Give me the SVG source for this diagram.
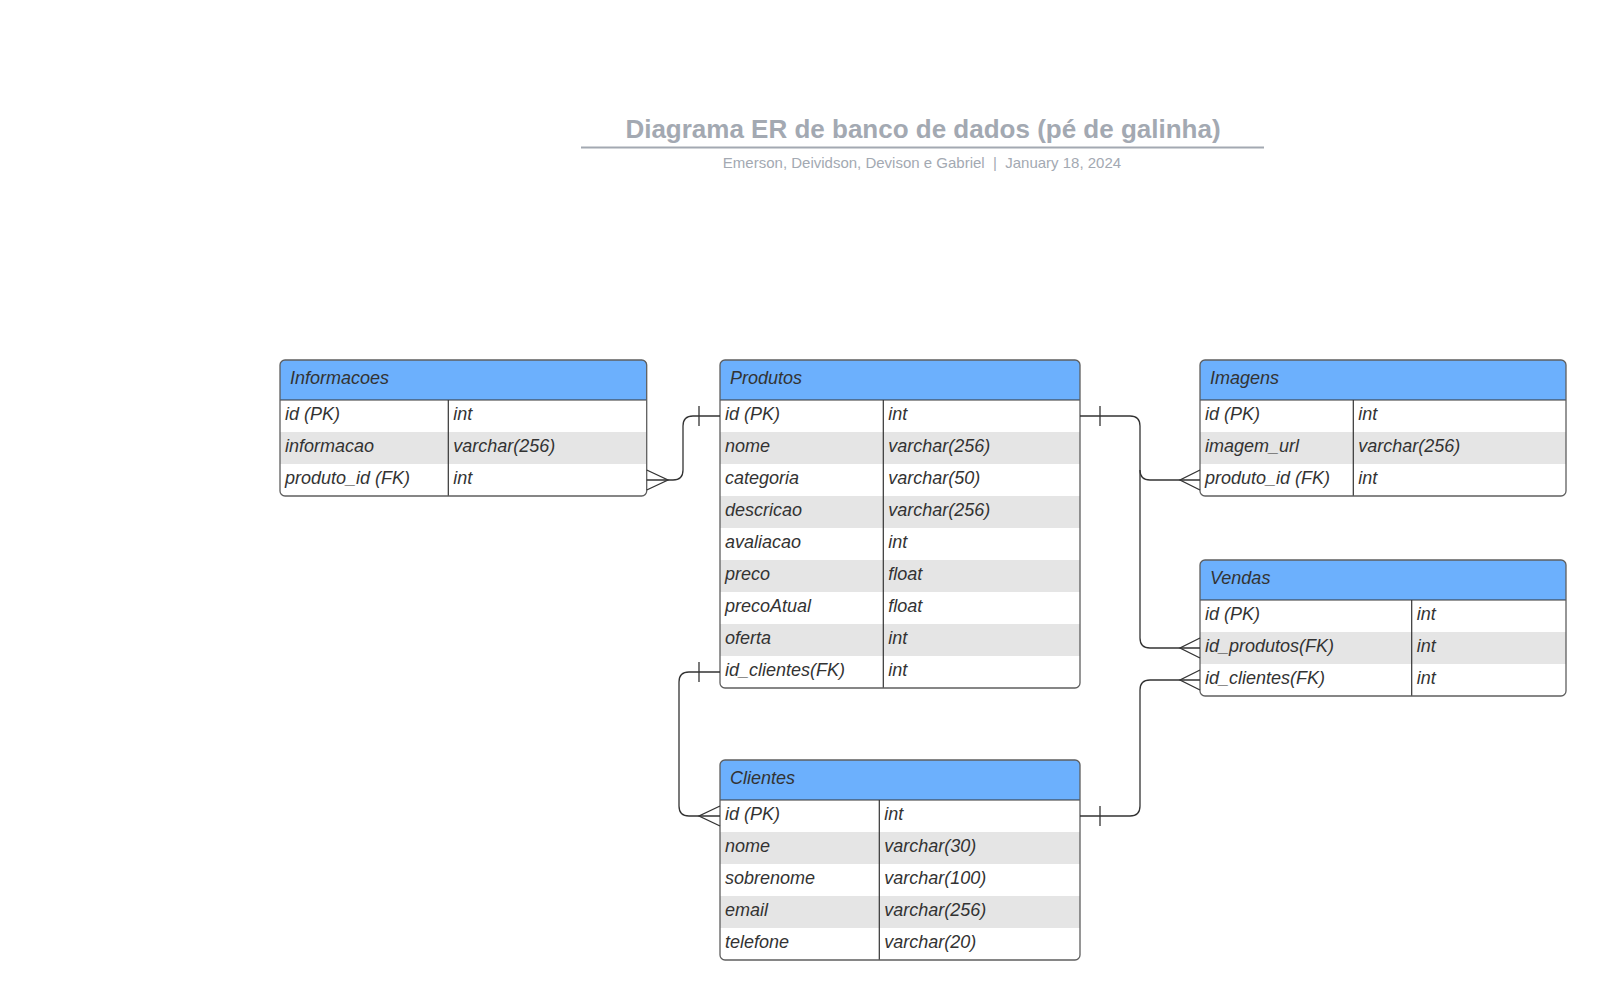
<svg xmlns="http://www.w3.org/2000/svg" width="1607" height="1000" viewBox="0 0 1607 1000">
<style>
.bg{fill:#ffffff}
.title{font-family:"Liberation Sans",Arial,sans-serif;font-size:26px;font-weight:bold;fill:#a3a9b2}
.sub{font-family:"Liberation Sans",Arial,sans-serif;font-size:15px;fill:#a3a9b2;white-space:pre}
.hdr{fill:#6cb0fd}
.alt{fill:#e5e5e5}
.frame{fill:none;stroke:#5f5f5f;stroke-width:1.3}
.sep{stroke:#333333;stroke-width:1.2}
.t{font-family:"Liberation Sans",Arial,sans-serif;font-size:18px;font-style:italic;fill:#333333}
.conn{fill:none;stroke:#333333;stroke-width:1.3}
</style>
<rect class="bg" x="0" y="0" width="1607" height="1000"/>
<g id="title">
<text class="title" x="923" y="138" text-anchor="middle">Diagrama ER de banco de dados (pé de galinha)</text>
<line x1="581" y1="147.5" x2="1264" y2="147.5" stroke="#a3a9b2" stroke-width="2"/>
<text class="sub" x="922" y="168" text-anchor="middle" xml:space="preserve">Emerson, Deividson, Devison e Gabriel  |  January 18, 2024</text>
</g>

<g id="informacoes">
<path class="hdr" d="M280,400 V365 Q280,360 285,360 H641.7 Q646.7,360 646.7,365 V400 Z"/>
<rect class="alt" x="280" y="432" width="366.7" height="32"/>
<line class="sep" x1="280" y1="400" x2="646.7" y2="400"/>
<line class="sep" x1="448.3" y1="400" x2="448.3" y2="496"/>
<rect class="frame" x="280" y="360" width="366.7" height="136" rx="5"/>
<text class="t" x="290" y="384">Informacoes</text>
<text class="t" x="285" y="420">id (PK)</text><text class="t" x="453.3" y="420">int</text>
<text class="t" x="285" y="452">informacao</text><text class="t" x="453.3" y="452">varchar(256)</text>
<text class="t" x="285" y="484">produto_id (FK)</text><text class="t" x="453.3" y="484">int</text>
</g>

<g id="produtos">
<path class="hdr" d="M720,400 V365 Q720,360 725,360 H1075 Q1080,360 1080,365 V400 Z"/>
<rect class="alt" x="720" y="432" width="360" height="32"/>
<rect class="alt" x="720" y="496" width="360" height="32"/>
<rect class="alt" x="720" y="560" width="360" height="32"/>
<rect class="alt" x="720" y="624" width="360" height="32"/>
<line class="sep" x1="720" y1="400" x2="1080" y2="400"/>
<line class="sep" x1="883.3" y1="400" x2="883.3" y2="688"/>
<rect class="frame" x="720" y="360" width="360" height="328" rx="5"/>
<text class="t" x="730" y="384">Produtos</text>
<text class="t" x="725" y="420">id (PK)</text><text class="t" x="888.3" y="420">int</text>
<text class="t" x="725" y="452">nome</text><text class="t" x="888.3" y="452">varchar(256)</text>
<text class="t" x="725" y="484">categoria</text><text class="t" x="888.3" y="484">varchar(50)</text>
<text class="t" x="725" y="516">descricao</text><text class="t" x="888.3" y="516">varchar(256)</text>
<text class="t" x="725" y="548">avaliacao</text><text class="t" x="888.3" y="548">int</text>
<text class="t" x="725" y="580">preco</text><text class="t" x="888.3" y="580">float</text>
<text class="t" x="725" y="612">precoAtual</text><text class="t" x="888.3" y="612">float</text>
<text class="t" x="725" y="644">oferta</text><text class="t" x="888.3" y="644">int</text>
<text class="t" x="725" y="676">id_clientes(FK)</text><text class="t" x="888.3" y="676">int</text>
</g>

<g id="imagens">
<path class="hdr" d="M1200,400 V365 Q1200,360 1205,360 H1561 Q1566,360 1566,365 V400 Z"/>
<rect class="alt" x="1200" y="432" width="366" height="32"/>
<line class="sep" x1="1200" y1="400" x2="1566" y2="400"/>
<line class="sep" x1="1353.3" y1="400" x2="1353.3" y2="496"/>
<rect class="frame" x="1200" y="360" width="366" height="136" rx="5"/>
<text class="t" x="1210" y="384">Imagens</text>
<text class="t" x="1205" y="420">id (PK)</text><text class="t" x="1358.3" y="420">int</text>
<text class="t" x="1205" y="452">imagem_url</text><text class="t" x="1358.3" y="452">varchar(256)</text>
<text class="t" x="1205" y="484">produto_id (FK)</text><text class="t" x="1358.3" y="484">int</text>
</g>

<g id="vendas">
<path class="hdr" d="M1200,600 V565 Q1200,560 1205,560 H1561 Q1566,560 1566,565 V600 Z"/>
<rect class="alt" x="1200" y="632" width="366" height="32"/>
<line class="sep" x1="1200" y1="600" x2="1566" y2="600"/>
<line class="sep" x1="1411.7" y1="600" x2="1411.7" y2="696"/>
<rect class="frame" x="1200" y="560" width="366" height="136" rx="5"/>
<text class="t" x="1210" y="584">Vendas</text>
<text class="t" x="1205" y="620">id (PK)</text><text class="t" x="1416.7" y="620">int</text>
<text class="t" x="1205" y="652">id_produtos(FK)</text><text class="t" x="1416.7" y="652">int</text>
<text class="t" x="1205" y="684">id_clientes(FK)</text><text class="t" x="1416.7" y="684">int</text>
</g>

<g id="clientes">
<path class="hdr" d="M720,800 V765 Q720,760 725,760 H1075 Q1080,760 1080,765 V800 Z"/>
<rect class="alt" x="720" y="832" width="360" height="32"/>
<rect class="alt" x="720" y="896" width="360" height="32"/>
<line class="sep" x1="720" y1="800" x2="1080" y2="800"/>
<line class="sep" x1="879.3" y1="800" x2="879.3" y2="960"/>
<rect class="frame" x="720" y="760" width="360" height="200" rx="5"/>
<text class="t" x="730" y="784">Clientes</text>
<text class="t" x="725" y="820">id (PK)</text><text class="t" x="884.3" y="820">int</text>
<text class="t" x="725" y="852">nome</text><text class="t" x="884.3" y="852">varchar(30)</text>
<text class="t" x="725" y="884">sobrenome</text><text class="t" x="884.3" y="884">varchar(100)</text>
<text class="t" x="725" y="916">email</text><text class="t" x="884.3" y="916">varchar(256)</text>
<text class="t" x="725" y="948">telefone</text><text class="t" x="884.3" y="948">varchar(20)</text>
</g>

<g id="connectors">
<path class="conn" d="M646.7,480 H673 Q683,480 683,470 V426 Q683,416 693,416 H720"/>
<path class="conn" d="M699,406 V426"/>
<path class="conn" d="M646.7,470 L668,480 L646.7,490"/>

<path class="conn" d="M1080,416 H1130 Q1140,416 1140,426 V470 Q1140,480 1150,480 H1200"/>
<path class="conn" d="M1100,406 V426"/>
<path class="conn" d="M1200,470 L1180,480 L1200,490"/>

<path class="conn" d="M1140,470 V638 Q1140,648 1150,648 H1200"/>
<path class="conn" d="M1200,638 L1180,648 L1200,658"/>

<path class="conn" d="M1200,680 H1150 Q1140,680 1140,690 V806 Q1140,816 1130,816 H1080"/>
<path class="conn" d="M1100,806 V826"/>
<path class="conn" d="M1200,670 L1180,680 L1200,690"/>

<path class="conn" d="M720,672 H689 Q679,672 679,682 V806 Q679,816 689,816 H720"/>
<path class="conn" d="M699,662 V682"/>
<path class="conn" d="M720,806 L699,816 L720,826"/>
</g>
</svg>
